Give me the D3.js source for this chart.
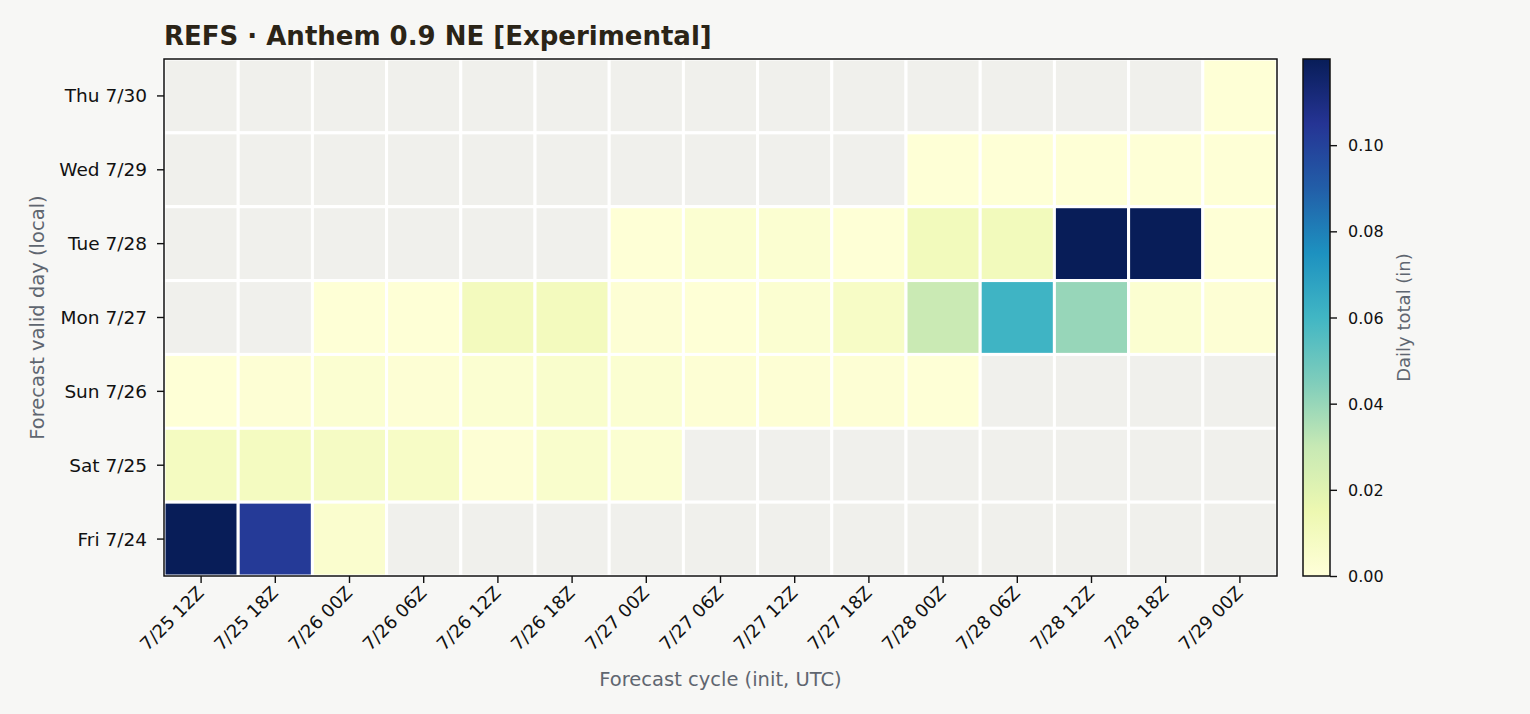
<!DOCTYPE html>
<html><head><meta charset="utf-8">
<script src="https://cdn.jsdelivr.net/npm/d3@7"></script>
<style>
body{margin:0;background:#f7f7f5;}
svg{display:block;}
svg text{font-family:"DejaVu Sans",sans-serif;}
</style></head>
<body><svg id="c" width="1530" height="714"></svg>
<script>
const cycles = ["7/25 12Z","7/25 18Z","7/26 00Z","7/26 06Z","7/26 12Z","7/26 18Z","7/27 00Z","7/27 06Z","7/27 12Z","7/27 18Z","7/28 00Z","7/28 06Z","7/28 12Z","7/28 18Z","7/29 00Z"];
const days = ["Thu 7/30","Wed 7/29","Tue 7/28","Mon 7/27","Sun 7/26","Sat 7/25","Fri 7/24"];
const N = null;
const thu = [N,N,N,N,N,N,N,N,N,N,N,N,N,N,0.001];
const wed = [N,N,N,N,N,N,N,N,N,N,0.001,0.001,0.001,0.001,0.001];
const tue = [N,N,N,N,N,N,0.001,0.003,0.003,0.001,0.011,0.011,0.12,0.12,0.001];
const mon = [N,N,0.001,0.001,0.010,0.010,0.002,0.001,0.003,0.007,0.029,0.061,0.040,0.003,0.002];
const sun = [0.001,0.002,0.003,0.002,0.003,0.005,0.003,0.002,0.002,0.002,0.001,N,N,N,N];
const sat = [0.009,0.009,0.008,0.007,0.002,0.005,0.003,N,N,N,N,N,N,N,N];
const fri = [0.12,0.103,0.004,N,N,N,N,N,N,N,N,N,N,N,N];
const rows = [thu,wed,tue,mon,sun,sat,fri];
const cbTicks = [0,0.02,0.04,0.06,0.08,0.10];
const vmax = 0.12;
const ylgnbu = ["#ffffd9","#edf8b1","#c7e9b4","#7fcdbb","#41b6c4","#1d91c0","#225ea8","#253494","#081d58"];

const svg = d3.select("#c");
const L=164,R=1277,T=59,B=576;
const x = d3.scaleBand().domain(cycles).range([L,R]).padding(0);
const y = d3.scaleBand().domain(days).range([T,B]).padding(0);
const color = d3.scaleLinear().domain(ylgnbu.map((d,i)=>i/(ylgnbu.length-1)*vmax)).range(ylgnbu).clamp(true);

const cells=[];
rows.forEach((r,i)=>r.forEach((v,j)=>cells.push({day:days[i],cyc:cycles[j],v})));
svg.append("g").selectAll("rect").data(cells).join("rect")
 .attr("x",d=>x(d.cyc)).attr("y",d=>y(d.day))
 .attr("width",x.bandwidth()).attr("height",y.bandwidth())
 .attr("fill",d=>d.v==null?"#f0f0ec":color(d.v))
 .attr("stroke","#ffffff").attr("stroke-width",3);

svg.append("rect").attr("x",L).attr("y",T).attr("width",R-L).attr("height",B-T)
 .attr("fill","none").attr("stroke","#111").attr("stroke-width",1.5);

// x axis
const xa = svg.append("g").attr("transform",`translate(0,${B})`)
 .call(d3.axisBottom(x).tickSize(7).tickSizeOuter(0));
xa.attr("font-family",null).attr("font-size",null);
xa.select(".domain").remove();
xa.selectAll("line").attr("stroke","#111").attr("stroke-width",1.4);
xa.selectAll("text").attr("font-size",18).attr("fill","#111")
 .attr("text-anchor","end").attr("dy",null).attr("y",null)
 .attr("transform","translate(4,18) rotate(-45)");

// y axis
const ya = svg.append("g").attr("transform",`translate(${L},0)`)
 .call(d3.axisLeft(y).tickSize(7).tickSizeOuter(0));
ya.attr("font-family",null).attr("font-size",null);
ya.select(".domain").remove();
ya.selectAll("line").attr("stroke","#111").attr("stroke-width",1.4);
ya.selectAll("text").attr("font-size",18.5).attr("fill","#111").attr("x",-17).attr("dy","0.35em");

// title and labels
svg.append("text").attr("x",L).attr("y",45).text("REFS · Anthem 0.9 NE [Experimental]")
 .attr("font-size",26).attr("font-weight","bold").attr("fill","#2b2417");
svg.append("text").attr("x",(L+R)/2).attr("y",686).attr("text-anchor","middle")
 .text("Forecast cycle (init, UTC)").attr("font-size",19.5).attr("fill","#5f6670");
svg.append("text").attr("transform",`translate(44,${(T+B)/2}) rotate(-90)`).attr("text-anchor","middle")
 .text("Forecast valid day (local)").attr("font-size",19.5).attr("fill","#5f6670");

// colorbar
const cbX=1303,cbW=27;
const cy = d3.scaleLinear().domain([0,vmax]).range([B,T]);
const defs = svg.append("defs");
const grad = defs.append("linearGradient").attr("id","cb").attr("x1",0).attr("y1",1).attr("x2",0).attr("y2",0);
ylgnbu.forEach((c,i)=>grad.append("stop").attr("offset",i/(ylgnbu.length-1)).attr("stop-color",c));
svg.append("rect").attr("x",cbX).attr("y",T).attr("width",cbW).attr("height",B-T)
 .attr("fill","url(#cb)").attr("stroke","#111").attr("stroke-width",1.5);
const ca = svg.append("g").attr("transform",`translate(${cbX+cbW},0)`)
 .call(d3.axisRight(cy).tickValues(cbTicks).tickFormat(d3.format(".2f")).tickSize(7));
ca.attr("font-family",null).attr("font-size",null);
ca.select(".domain").remove();
ca.selectAll("line").attr("stroke","#111").attr("stroke-width",1.4);
ca.selectAll("text").attr("font-size",16).attr("fill","#111").attr("x",18).attr("dy","0.35em");
svg.append("text").attr("transform",`translate(1410,${(T+B)/2}) rotate(-90)`).attr("text-anchor","middle")
 .text("Daily total (in)").attr("font-size",18).attr("fill","#5f6670");
</script></body></html>
